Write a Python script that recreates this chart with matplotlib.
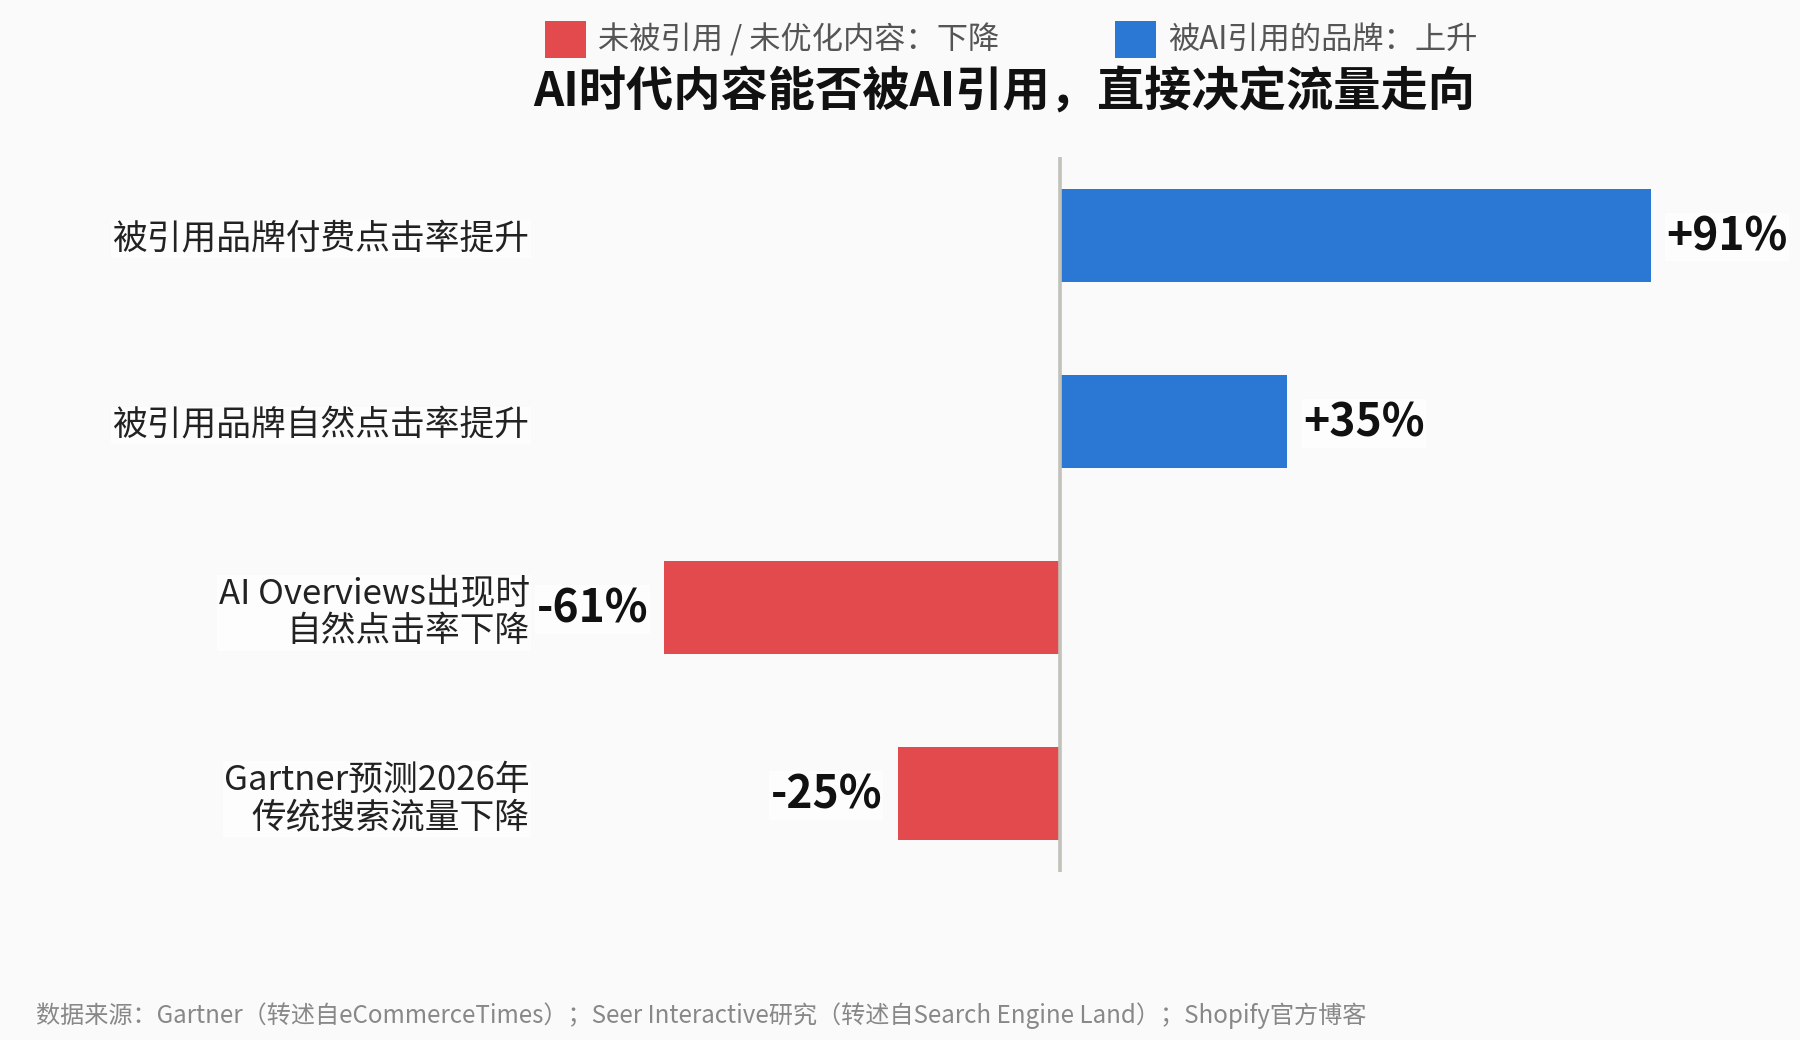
import matplotlib
matplotlib.use("Agg")
import matplotlib.pyplot as plt
from matplotlib.patches import Patch

plt.rcParams['font.family'] = ['Noto Sans CJK SC', 'DejaVu Sans']

# data
categories = ["被引用品牌付费点击率提升",
              "被引用品牌自然点击率提升",
              "AI Overviews出现时\n自然点击率下降",
              "Gartner预测2026年\n传统搜索流量下降"]
values = [91, 35, -61, -25]
value_labels = ["+91%", "+35%", "-61%", "-25%"]
legend_labels = ["未被引用 / 未优化内容：下降", "被AI引用的品牌：上升"]
title = "AI时代内容能否被AI引用，直接决定流量走向"
source = "数据来源：Gartner（转述自eCommerceTimes）；Seer Interactive研究（转述自Search Engine Land）；Shopify官方博客"

RED = "#e24a4e"
BLUE = "#2b78d4"
BG = "#fafafa"

fig = plt.figure(figsize=(18, 10.4), dpi=100, facecolor=BG)
ax = fig.add_axes([0.3183, 0.1615, 0.6133, 0.6875])
ax.set_facecolor(BG)

ypos = list(range(len(values)))
colors = [BLUE if v > 0 else RED for v in values]
ax.barh(ypos, values, height=0.5, color=colors, zorder=2)
ax.axvline(0, color="#c2c2ba", lw=2.6, zorder=3)

ax.set_xlim(-75, 95)
ax.set_ylim(3.42, -0.42)
ax.set_yticks(ypos)
ax.set_yticklabels(categories, fontsize=25, color="#222222", linespacing=1.1)
for lbl in ax.get_yticklabels():
    lbl.set_bbox(dict(facecolor="#ffffff", edgecolor="none", pad=1, alpha=0.7))
ax.tick_params(axis="y", length=0, pad=31)
ax.set_xticks([])
for s in ax.spines.values():
    s.set_visible(False)

for y, v, t in zip(ypos, values, value_labels):
    off = 2.4 if v > 0 else -2.4
    ax.text(v + off, y + 0.01, t, ha="left" if v > 0 else "right", va="center",
            fontsize=32, fontweight="bold", color="#111111", clip_on=False,
            bbox=dict(facecolor="#ffffff", edgecolor="none", pad=1, alpha=0.7))

fig.text(0.558, 1 - 93 / 1040, title, ha="center", va="center",
         fontsize=34, fontweight="bold", color="#111111")

handles = [Patch(facecolor=RED), Patch(facecolor=BLUE)]
leg = fig.legend(handles, legend_labels, loc="center", bbox_to_anchor=(0.562, 0.962),
                 ncol=2, frameon=False, fontsize=22.5, handlelength=1.3, handleheight=1.45,
                 handletextpad=0.4, columnspacing=3.7)
for t in leg.get_texts():
    t.set_color("#555555")

fig.text(0.02, 1 - 1016 / 1040, source, ha="left", va="center",
         fontsize=17.4, color="#888888")

fig.savefig("out.png", dpi=100, facecolor=BG)
